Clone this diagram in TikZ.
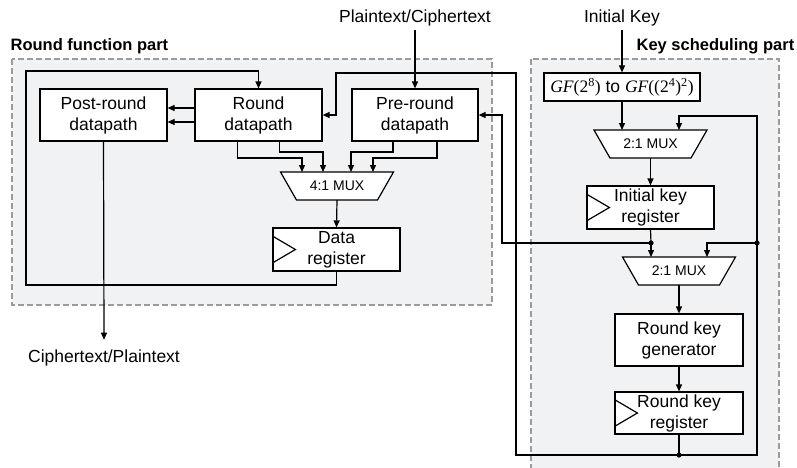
\documentclass[tikz,border=0pt]{standalone}
\usepackage{fontspec}
\setmainfont{Liberation Sans}
\newfontfamily\tmsfont{Liberation Serif}
\usetikzlibrary{arrows.meta}
\definecolor{partfill}{RGB}{241,242,244}
\definecolor{partline}{RGB}{155,155,155}
\newcommand\regclk[1]{\draw ([yshift=13.5pt]#1.west) -- ([xshift=23pt]#1.west) -- ([yshift=-13.5pt]#1.west);}

\begin{document}
\begin{tikzpicture}[x=1pt,y=-1pt,line width=1.2pt,
    font=\fontsize{17.5}{21}\selectfont,
    blk/.style={draw,fill=white,minimum width=127pt,minimum height=52pt,align=center,inner sep=0pt},
    reg/.style={blk,minimum height=43pt},
    muxbox/.style={minimum width=115pt,minimum height=30pt,inner sep=0pt,font=\fontsize{14}{16}\selectfont,
        path picture={\draw[fill=white] ([shift={(1pt,-1pt)}]path picture bounding box.north west)
            -- ([shift={(-1pt,-1pt)}]path picture bounding box.north east)
            -- ([shift={(-17pt,1pt)}]path picture bounding box.south east)
            -- ([shift={(17pt,1pt)}]path picture bounding box.south west) -- cycle;}},
    arr/.style={-{Triangle[length=7pt,width=6pt]}},
    part/.style={draw=partline,fill=partfill,dash pattern=on 6pt off 3pt,line width=1.6pt},
    ttl/.style={font=\fontsize{16.5}{20}\selectfont\bfseries,anchor=base west,inner sep=0pt},
    io/.style={inner sep=0pt,anchor=base}]
    \useasboundingbox (0,0) rectangle (797,467);

    % the two parts
    \draw[part] (12,59) rectangle (492,305);
    \draw[part] (531,59) rectangle (779,490);
    \node[ttl] (rftitle) at (10,50) {Round function part};
    \node[ttl] (kstitle) at (636,50) {Key scheduling part};

    % inputs and output
    \node[io] (ptin) at (415,22) {Plaintext/Ciphertext};
    \node[io] (keyin) at (622,22) {Initial Key};
    \node[io] (ctout) at (104,362) {Ciphertext/Plaintext};

    % round function part
    \node[blk] (prd) at (103.5,115) {Post-round\\datapath};
    \node[blk] (rdp) at (258.5,115) {Round\\datapath};
    \node[blk,minimum width=126pt] (pre) at (415,115) {Pre-round\\datapath};
    \node[muxbox] (mux) at (337,186) {4:1 MUX};
    \node[reg] (dreg) at (336.5,249.5) {Data\\register};
    \regclk{dreg}

    % key scheduling part
    \node[blk,minimum width=156pt,minimum height=28pt] (gf) at (622,87)
        {{\tmsfont\itshape GF}{\tmsfont(2\textsuperscript{8})} to {\tmsfont\itshape GF}{\tmsfont((2\textsuperscript{4})\textsuperscript{2})}};
    \node[muxbox] (mux1) at (650.5,144) {2:1 MUX};
    \node[reg] (ikr) at (650.5,207.5) {Initial key\\register};
    \regclk{ikr}
    \node[muxbox] (mux2) at (679,271) {2:1 MUX};
    \node[blk,minimum width=128pt] (rkg) at (679,340) {Round key\\generator};
    \node[reg,minimum width=128pt,minimum height=42pt] (rkr) at (679,413) {Round key\\register};
    \regclk{rkr}

    \coordinate (j1) at (651,243);
    \coordinate (j2) at (757,243);
    \coordinate (j3) at (679,455);

    % data path connectors
    \draw[arr] ([yshift=-4pt]ptin.south) -- (pre.north);
    \draw[arr] ([yshift=7pt]rdp.west) -- ([yshift=7pt]prd.east);
    \draw[arr] ([yshift=-7pt]rdp.west) -- ([yshift=-7pt]prd.east);
    \draw[arr] ([xshift=-21pt]rdp.south) |- ([xshift=-35pt,yshift=28pt]mux.center) -- ([xshift=-35pt,yshift=14pt]mux.center);
    \draw[arr] ([xshift=21pt]rdp.south) |- ([xshift=-14pt,yshift=34pt]mux.center) -- ([xshift=-14pt,yshift=14pt]mux.center);
    \draw[arr] ([xshift=-22pt]pre.south) |- ([xshift=14pt,yshift=34pt]mux.center) -- ([xshift=14pt,yshift=14pt]mux.center);
    \draw[arr] ([xshift=22pt]pre.south) |- ([xshift=36pt,yshift=28pt]mux.center) -- ([xshift=36pt,yshift=14pt]mux.center);
    \draw[arr] ([yshift=-14pt]mux.center) -- (dreg.north);
    \draw[arr] (dreg.south) |- (26,285) -- (26,71) -| (rdp.north);
    \draw[arr] (prd.south) -- ([yshift=9pt]ctout.north);

    % key path connectors
    \draw[arr] ([yshift=-4pt]keyin.south) -- (gf.north);
    \draw[arr] (gf.south) -- ([xshift=-28.5pt,yshift=14pt]mux1.center);
    \draw[arr] ([yshift=-14pt]mux1.center) -- (ikr.north);
    \draw (ikr.south) -- (j1);
    \draw[arr] (j1) -- ([xshift=-28pt,yshift=14pt]mux2.center);
    \draw[arr] (j1) -| (502,115) -- (pre.east);
    \draw[arr] ([yshift=-14pt]mux2.center) -- (rkg.north);
    \draw[arr] (rkg.south) -- (rkr.north);
    \draw (rkr.south) -- (j3);
    \draw[arr] (j3) -| (516,73) -- (336,73) |- (rdp.east);
    \draw[arr] (j3) -| (j2) -- (757,116) -| ([xshift=28.5pt,yshift=14pt]mux1.center);
    \draw[arr] (j2) -| ([xshift=28pt,yshift=14pt]mux2.center);
    \foreach \j in {j1,j2,j3}
        \fill (\j) circle (2.6pt);
\end{tikzpicture}
\end{document}
